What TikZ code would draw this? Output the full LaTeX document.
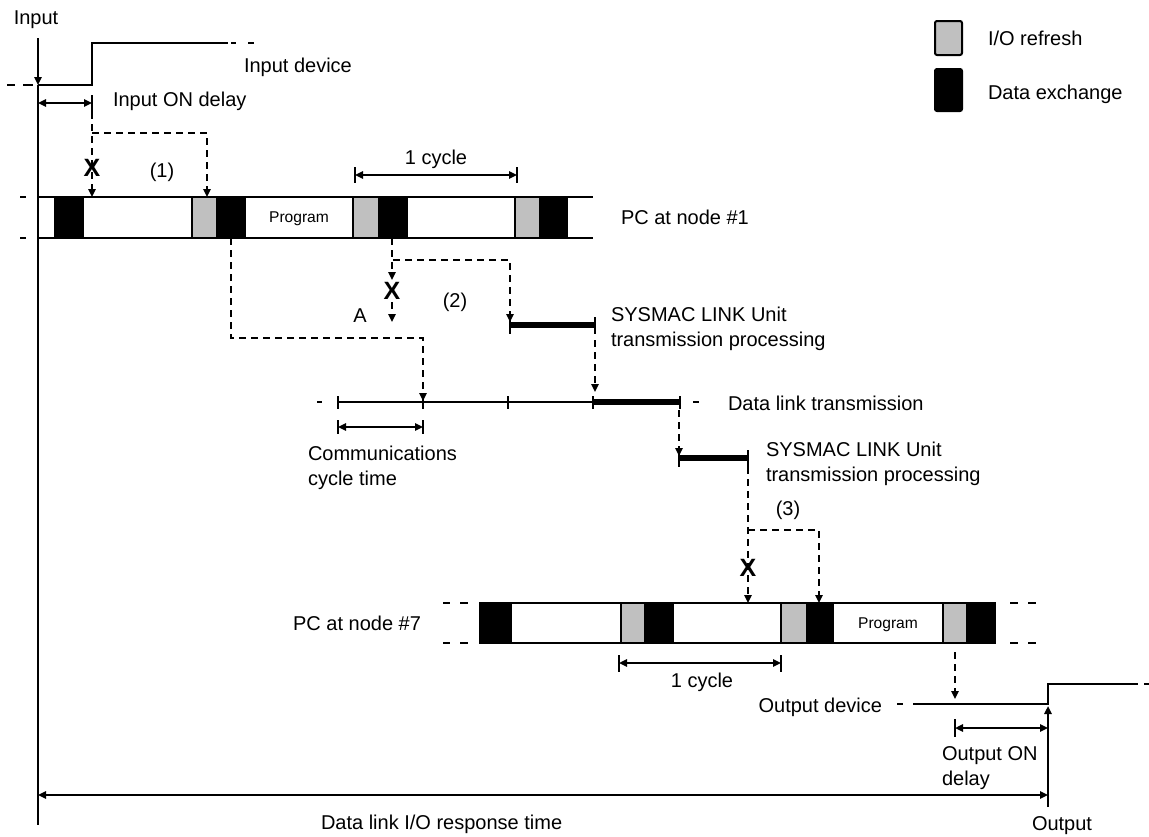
\documentclass[tikz,border=0pt]{standalone}
\usepackage{fontspec}
\setmainfont{Liberation Sans}
\usetikzlibrary{arrows.meta}
\definecolor{iogrey}{HTML}{C0C0C0}

\begin{document}
\begin{tikzpicture}[x=0.5pt, y=-0.5pt, line width=1pt,
    font=\fontsize{10}{12.5}\selectfont,
    >={Triangle[length=4pt, width=3.6pt]},
    dashline/.style={dash pattern=on 3.5pt off 2.5pt},
    thickline/.style={line width=2.6pt},
    lbl/.style={inner sep=0pt, text height=7.2pt, text depth=0pt},
    lbltwo/.style={inner sep=0pt, align=left, anchor=north west},
    cross/.style={inner sep=0pt, font=\fontsize{12.5}{12.5}\selectfont\bfseries},
    prog/.style={lbl, font=\fontsize{7.8}{9}\selectfont, text height=5.6pt}]

\useasboundingbox (0,0) rectangle (1149,836);

% legend
\filldraw[fill=iogrey, rounded corners=1pt] (935,21) rectangle (962,55);
\filldraw[fill=black, rounded corners=1pt] (935,69) rectangle (962,111);
\node[lbl, anchor=west] (lgio) at (987,38) {I/O refresh};
\node[lbl, anchor=west] (lgdx) at (987,92) {Data exchange};

% input axis and input device
\node[lbl] (input) at (36,17) {Input};
\draw[->] (38,38) -- (38,85);
\draw (38,85) -- (38,825);
\draw (38,85) -- (92,85) -- (92,43) -- (228,43);
\draw (7,85) -- (15,85) (23,85) -- (33,85) (231,43) -- (236,43) (248,43) -- (254,43);
\node[lbl, anchor=west] (indev) at (243,65) {Input device};
\draw[<->] (38,103) -- (92,103);
\draw (92,95) -- (92,112);
\node[lbl, anchor=west] (indelay) at (112,99) {Input ON delay};

% (1)
\draw[dashline, ->] (92,112) -- (92,197);
\node[cross] (xa) at (92,168) {X};
\draw[dashline, ->] (92,133) -- (207,133) -- (207,197);
\node[lbl] (one) at (162,170) {(1)};

% PC at node #1
\draw (39,197) -- (593,197) (39,238) -- (593,238);
\draw (20,197) -- (26,197) (20,238) -- (26,238);
\foreach \a/\b/\c in {55/83/black, 192/217/iogrey, 217/245/black, 353/379/iogrey,
    379/407/black, 515/540/iogrey, 540/567/black}
    \filldraw[fill=\c] (\a,197) rectangle (\b,238);
\node[prog] (proga) at (299,217) {Program};
\node[lbl, anchor=west] (pca) at (620,217) {PC at node \#1};
\draw[<->] (355,175) -- (517,175);
\draw (355,167) -- (355,183) (517,167) -- (517,183);
\node[lbl] (cyca) at (436,157) {1 cycle};

% (2)
\draw[dashline, ->] (231,238) -- (231,338) -- (423,338) -- (423,401);
\draw[dashline, ->] (392,238) -- (392,280);
\node[cross] (xb) at (392,291) {X};
\draw[dashline, ->] (392,302) -- (392,322);
\draw[dashline, ->] (393,260) -- (510,260) -- (510,322);
\node[lbl] (two) at (455,300) {(2)};
\node[lbl] (pa) at (360,315) {A};
\draw[thickline] (510,325) -- (595,325);
\draw (510,317) -- (510,334) (595,317) -- (595,334);
\node[lbltwo] (sysa) at (610,306) {SYSMAC LINK Unit\\transmission processing};
\draw[dashline, ->] (595,340) -- (595,392);

% data link transmission
\draw (338,402) -- (593,402);
\draw[thickline] (593,402) -- (680,402);
\foreach \x in {338,423,508,593,680}
    \draw (\x,396) -- (\x,409);
\draw (317,402) -- (322,402) (693,402) -- (699,402);
\node[lbl, anchor=west] (dlink) at (727,403) {Data link transmission};
\draw[<->] (338,427) -- (423,427);
\draw (338,420) -- (338,434) (423,420) -- (423,434);
\node[lbltwo] (comm) at (307,445) {Communications\\cycle time};

% receiving unit
\draw[dashline, ->] (679,410) -- (679,456);
\draw[thickline] (679,458) -- (748,458);
\draw (679,450) -- (679,467) (748,450) -- (748,467);
\node[lbltwo] (sysb) at (765,441) {SYSMAC LINK Unit\\transmission processing};

% (3)
\draw[dashline, ->] (748,467) -- (748,603);
\node[cross] (xc) at (748,568) {X};
\draw[dashline, ->] (748,530) -- (819,530) -- (819,603);
\node[lbl] (three) at (788,508) {(3)};

% PC at node #7
\draw (480,603) -- (995,603) (480,643) -- (995,643);
\draw (443,603) -- (450,603) (460,603) -- (468,603) (443,643) -- (450,643) (460,643) -- (468,643);
\draw (1010,603) -- (1018,603) (1028,603) -- (1036,603) (1010,643) -- (1018,643) (1028,643) -- (1036,643);
\foreach \a/\b/\c in {480/511/black, 621/645/iogrey, 645/673/black, 781/807/iogrey,
    807/833/black, 943/967/iogrey, 967/995/black}
    \filldraw[fill=\c] (\a,603) rectangle (\b,643);
\node[prog] (progb) at (888,623) {Program};
\node[lbl, anchor=east] (pcb) at (422,623) {PC at node \#7};
\draw[<->] (619,663) -- (781,663);
\draw (619,655) -- (619,672) (781,655) -- (781,672);
\node[lbl] (cycb) at (702,680) {1 cycle};

% output device
\draw[dashline, ->] (955,652) -- (955,699);
\draw (913,704) -- (1048,704) -- (1048,684) -- (1138,684);
\draw (897,704) -- (903,704) (1144,684) -- (1149,684);
\node[lbl, anchor=east] (outdev) at (883,705) {Output device};
\draw[->] (1048,807) -- (1048,706);
\draw[<->] (955,728) -- (1048,728);
\draw (955,719) -- (955,737);
\node[lbltwo] (outdelay) at (941,746) {Output ON\\delay};

% response time
\draw[<->] (38,795) -- (1048,795);
\node[lbl, anchor=west] (resp) at (320,822) {Data link I/O response time};
\node[lbl] (output) at (1062,823) {Output};
\end{tikzpicture}
\end{document}
